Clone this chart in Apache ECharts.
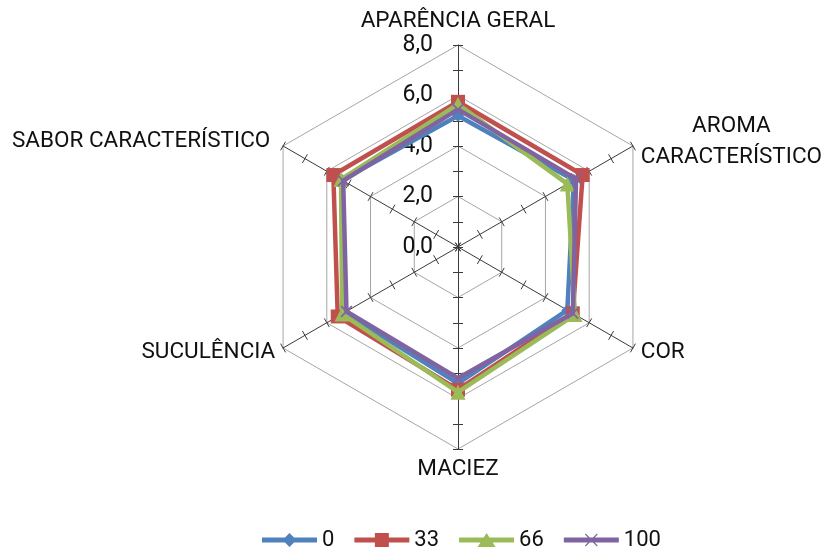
<!DOCTYPE html>
<html>
<head>
<meta charset="utf-8">
<title>Análise sensorial</title>
<script src="https://cdn.jsdelivr.net/npm/echarts@6/dist/echarts.min.js"></script>
<style>
  html, body { margin: 0; padding: 0; background: #fff; }
  #chart { width: 825px; height: 550px; }
</style>
</head>
<body>
<div id="chart"></div>
<script>
// Attributes, listed clockwise starting at the top
const attributes = ['APARÊNCIA GERAL', 'AROMA CARACTERÍSTICO', 'COR', 'MACIEZ', 'SUCULÊNCIA', 'SABOR CARACTERÍSTICO'];

// Mean scores per treatment level
const level0   = [5.2, 5.3, 5.0, 5.4, 5.2, 5.3];
const level33  = [5.75, 5.7, 5.25, 5.65, 5.5, 5.7];
const level66  = [5.65, 5.0, 5.35, 5.75, 5.3, 5.35];
const level100 = [5.45, 5.4, 5.25, 5.2, 5.1, 5.25];

const seriesNames = ['0', '33', '66', '100'];
const ringLabels = ['0,0', '2,0', '4,0', '6,0', '8,0'];

const scaleMax = 8;
const colors = ['#4F81BD', '#C0504D', '#9BBB59', '#8064A2'];
const FONT = 'Roboto, "Liberation Sans", sans-serif';
const NAME_SIZE = 22.5;

// ECharts lays radar indicators out counter-clockwise; re-order so they run clockwise
const order = [0, 5, 4, 3, 2, 1];
const reorder = arr => order.map(i => arr[i]);

const indicators = reorder(attributes).map(name => ({ name: name, min: 0, max: scaleMax }));

const CENTER = [458, 247];
const RADIUS = 202;

// Marker shapes (series) and legend icons (line + marker)
const xSymbol = 'path://M-0.7,0.7 L0.7,-0.7 L12.7,11.3 L11.3,12.7 Z M11.3,-0.7 L12.7,0.7 L0.7,12.7 L-0.7,11.3 Z';
const bar = 'M0,4.6 L55,4.6 L55,9.4 L0,9.4 Z ';
const legendIcons = [
  'path://' + bar + 'M27.5,0 L34.5,7 L27.5,14 L20.5,7 Z',
  'path://' + bar + 'M20.5,0 L34.5,0 L34.5,14 L20.5,14 Z',
  'path://' + bar + 'M27.5,0 L36.5,14 L18.5,14 Z',
  'path://' + bar + 'M21.1,1.4 L21.9,0.6 L33.9,12.6 L33.1,13.4 Z M33.1,0.6 L33.9,1.4 L21.9,13.4 L21.1,12.6 Z'
];
const symbols = ['diamond', 'rect', 'triangle', xSymbol];
const symbolSizes = [12, 14, 15, 12];
const allData = [level0, level33, level66, level100];

function nameFormatter(name) {
  if (name === 'AROMA CARACTERÍSTICO') return '{c|AROMA}\n{c|CARACTERÍSTICO}';
  if (name === 'APARÊNCIA GERAL') return '{ap|' + name + '}';
  if (name === 'SABOR CARACTERÍSTICO') return '{sb|' + name + '}';
  return name;
}

// Tick-only radars: one draws ticks on each side of the spokes so they cross
const tickRadar = len => ({
  center: CENTER,
  radius: RADIUS,
  shape: 'polygon',
  splitNumber: 8,
  indicator: indicators,
  axisName: { show: false },
  axisLine: { show: false },
  splitLine: { show: false },
  splitArea: { show: false },
  axisTick: { show: true, length: len, lineStyle: { color: '#3a3a3a', width: 1 } },
  axisLabel: { show: false },
  silent: true
});

const nameStyle = { fontSize: NAME_SIZE, fontFamily: FONT, color: '#111' };

const option = {
  animation: false,
  backgroundColor: '#ffffff',
  textStyle: { fontFamily: FONT },
  radar: [
    {
      center: CENTER,
      radius: RADIUS,
      shape: 'polygon',
      splitNumber: 4,
      indicator: indicators,
      nameGap: 9,
      axisName: Object.assign({
        formatter: nameFormatter,
        rich: {
          c: Object.assign({ align: 'center', lineHeight: 31 }, nameStyle),
          ap: Object.assign({ padding: [0, 0, 3, 0] }, nameStyle),
          sb: Object.assign({ padding: [0, 5, 0, 0] }, nameStyle)
        }
      }, nameStyle),
      axisLine: { lineStyle: { color: '#3a3a3a', width: 1 } },
      splitLine: { lineStyle: { color: '#a6a6a6', width: 1 } },
      splitArea: { show: false },
      axisTick: { show: false }
    },
    tickRadar(5),
    tickRadar(-5)
  ],
  // Scale labels along the vertical axis
  grid: { left: CENTER[0], top: CENTER[1] - RADIUS, width: 1, height: RADIUS, containLabel: false },
  xAxis: { type: 'value', show: false, min: 0, max: 1 },
  yAxis: {
    type: 'value',
    min: 0,
    max: scaleMax,
    interval: 2,
    axisLine: { show: false },
    axisTick: { show: false },
    splitLine: { show: false },
    axisLabel: {
      margin: 25,
      fontSize: 23,
      fontFamily: FONT,
      color: '#111',
      formatter: v => ringLabels[Math.round(v / 2)]
    }
  },
  legend: {
    left: 257,
    top: 524,
    itemWidth: 55,
    itemHeight: 14,
    itemGap: 20,
    textStyle: { fontSize: 22, fontFamily: FONT, color: '#111' },
    data: seriesNames.map((n, i) => ({ name: n, icon: legendIcons[i] }))
  },
  series: seriesNames.map((n, i) => ({
    type: 'radar',
    name: n,
    radarIndex: 0,
    symbol: symbols[i],
    symbolSize: symbolSizes[i],
    z: 2 + i,
    lineStyle: { color: colors[i], width: 4.5 },
    itemStyle: { color: colors[i] },
    data: [{ name: n, value: reorder(allData[i]) }]
  }))
};

const chart = echarts.init(document.getElementById('chart'), null, { renderer: 'canvas' });
chart.setOption(option);
</script>
</body>
</html>
